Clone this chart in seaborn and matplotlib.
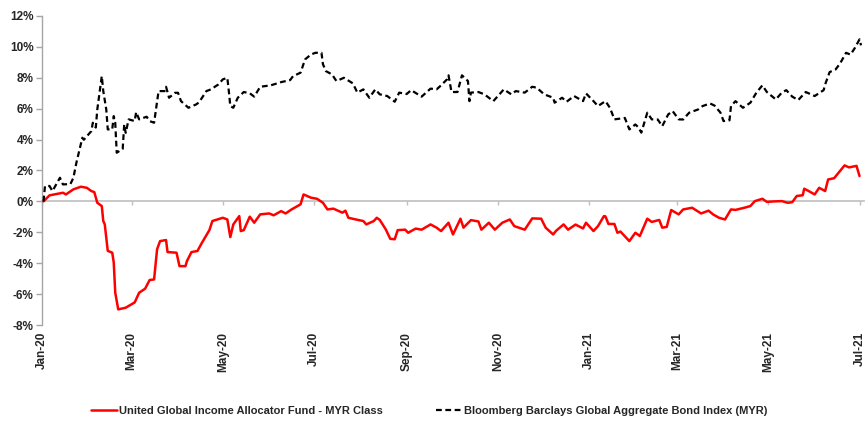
import matplotlib
matplotlib.use("Agg")
import matplotlib.pyplot as plt
import matplotlib.dates as mdates
import pandas as pd
import seaborn as sns

# ---------------- data ----------------
fund_label = "United Global Income Allocator Fund - MYR Class"
index_label = "Bloomberg Barclays Global Aggregate Bond Index (MYR)"

fund_dates = [
    "2020-01-02", "2020-01-06", "2020-01-15", "2020-01-17", "2020-01-22", "2020-01-27", "2020-01-31", "2020-02-03", "2020-02-05", "2020-02-07",
    "2020-02-10", "2020-02-11", "2020-02-12", "2020-02-14", "2020-02-17", "2020-02-18", "2020-02-19", "2020-02-21", "2020-02-26", "2020-03-03",
    "2020-03-06", "2020-03-10", "2020-03-13", "2020-03-16", "2020-03-18", "2020-03-20", "2020-03-24", "2020-03-25", "2020-03-31", "2020-04-02",
    "2020-04-06", "2020-04-07", "2020-04-10", "2020-04-14", "2020-04-17", "2020-04-22", "2020-04-24", "2020-05-01", "2020-05-04", "2020-05-06",
    "2020-05-08", "2020-05-12", "2020-05-13", "2020-05-15", "2020-05-19", "2020-05-22", "2020-05-26", "2020-06-01", "2020-06-04", "2020-06-09",
    "2020-06-12", "2020-06-16", "2020-06-22", "2020-06-24", "2020-06-29", "2020-07-03", "2020-07-07", "2020-07-10", "2020-07-14", "2020-07-20",
    "2020-07-22", "2020-07-24", "2020-07-29", "2020-08-03", "2020-08-05", "2020-08-10", "2020-08-12", "2020-08-14", "2020-08-18", "2020-08-21",
    "2020-08-24", "2020-08-26", "2020-08-31", "2020-09-02", "2020-09-07", "2020-09-11", "2020-09-17", "2020-09-21", "2020-09-24", "2020-09-29",
    "2020-10-02", "2020-10-07", "2020-10-09", "2020-10-14", "2020-10-19", "2020-10-21", "2020-10-26", "2020-10-30", "2020-11-04", "2020-11-09",
    "2020-11-12", "2020-11-19", "2020-11-24", "2020-11-30", "2020-12-03", "2020-12-08", "2020-12-10", "2020-12-15", "2020-12-18", "2020-12-23",
    "2020-12-28", "2020-12-30", "2021-01-04", "2021-01-07", "2021-01-11", "2021-01-12", "2021-01-14", "2021-01-18", "2021-01-20", "2021-01-22",
    "2021-01-28", "2021-02-01", "2021-02-04", "2021-02-09", "2021-02-12", "2021-02-17", "2021-02-19", "2021-02-22", "2021-02-25", "2021-03-02",
    "2021-03-05", "2021-03-11", "2021-03-17", "2021-03-22", "2021-03-25", "2021-03-29", "2021-04-02", "2021-04-06", "2021-04-09", "2021-04-15",
    "2021-04-19", "2021-04-22", "2021-04-27", "2021-04-30", "2021-05-05", "2021-05-10", "2021-05-14", "2021-05-17", "2021-05-20", "2021-05-24",
    "2021-05-25", "2021-05-28", "2021-06-01", "2021-06-04", "2021-06-08", "2021-06-10", "2021-06-14", "2021-06-17", "2021-06-21", "2021-06-24",
    "2021-06-29", "2021-07-01",
]
fund_values = [
    0.0, 0.39, 0.56, 0.45, 0.78, 0.95, 0.88, 0.67, 0.60, -0.09,
    -0.30, -1.27, -1.49, -3.20, -3.32, -3.95, -5.90, -6.99, -6.88, -6.54,
    -5.91, -5.65, -5.09, -5.05, -3.10, -2.57, -2.50, -3.28, -3.32, -4.19,
    -4.19, -3.86, -3.28, -3.21, -2.68, -1.86, -1.27, -1.06, -1.17, -2.31,
    -1.49, -0.95, -1.92, -1.86, -0.99, -1.38, -0.84, -0.78, -0.90, -0.63,
    -0.78, -0.52, -0.19, 0.45, 0.24, 0.17, -0.09, -0.52, -0.47, -0.73,
    -0.60, -1.06, -1.17, -1.27, -1.49, -1.27, -1.06, -1.20, -1.81, -2.42,
    -2.45, -1.86, -1.83, -2.03, -1.76, -1.83, -1.49, -1.70, -1.92, -1.38,
    -2.14, -1.12, -1.70, -1.21, -1.30, -1.83, -1.38, -1.83, -1.38, -1.17,
    -1.60, -1.83, -1.10, -1.12, -1.70, -2.14, -1.90, -1.49, -1.83, -1.50,
    -1.75, -1.38, -1.92, -1.60, -0.95, -0.97, -1.46, -1.46, -2.03, -1.95,
    -2.57, -2.03, -2.24, -1.12, -1.33, -1.20, -1.70, -1.65, -0.56, -0.84,
    -0.52, -0.41, -0.78, -0.60, -0.84, -1.06, -1.17, -0.52, -0.55, -0.41,
    -0.30, 0.02, 0.17, -0.03, 0.00, 0.02, -0.09, -0.05, 0.35, 0.40,
    0.82, 0.67, 0.45, 0.88, 0.67, 1.42, 1.50, 1.86, 2.33, 2.20,
    2.30, 1.64,
]

index_dates = [
    "2020-01-02", "2020-01-03", "2020-01-06", "2020-01-08", "2020-01-13", "2020-01-15", "2020-01-20", "2020-01-22", "2020-01-24", "2020-01-28",
    "2020-01-29", "2020-02-03", "2020-02-04", "2020-02-06", "2020-02-07", "2020-02-10", "2020-02-11", "2020-02-13", "2020-02-14", "2020-02-17",
    "2020-02-18", "2020-02-19", "2020-02-20", "2020-02-24", "2020-02-25", "2020-02-26", "2020-02-28", "2020-03-03", "2020-03-04", "2020-03-06",
    "2020-03-11", "2020-03-13", "2020-03-16", "2020-03-19", "2020-03-23", "2020-03-24", "2020-03-26", "2020-03-30", "2020-04-01", "2020-04-03",
    "2020-04-08", "2020-04-13", "2020-04-15", "2020-04-20", "2020-04-23", "2020-04-28", "2020-05-01", "2020-05-04", "2020-05-05", "2020-05-06",
    "2020-05-08", "2020-05-11", "2020-05-15", "2020-05-19", "2020-05-22", "2020-05-26", "2020-06-02", "2020-06-09", "2020-06-15", "2020-06-17",
    "2020-06-22", "2020-06-25", "2020-06-29", "2020-07-02", "2020-07-06", "2020-07-07", "2020-07-09", "2020-07-13", "2020-07-16", "2020-07-21",
    "2020-07-27", "2020-07-30", "2020-08-03", "2020-08-07", "2020-08-11", "2020-08-14", "2020-08-19", "2020-08-24", "2020-08-27", "2020-09-01",
    "2020-09-04", "2020-09-11", "2020-09-17", "2020-09-21", "2020-09-24", "2020-09-28", "2020-09-29", "2020-10-01", "2020-10-05", "2020-10-08",
    "2020-10-12", "2020-10-13", "2020-10-14", "2020-10-19", "2020-10-23", "2020-10-29", "2020-11-03", "2020-11-05", "2020-11-10", "2020-11-13",
    "2020-11-19", "2020-11-24", "2020-11-27", "2020-12-02", "2020-12-08", "2020-12-09", "2020-12-14", "2020-12-17", "2020-12-22", "2020-12-28",
    "2020-12-30", "2021-01-04", "2021-01-07", "2021-01-12", "2021-01-15", "2021-01-18", "2021-01-25", "2021-01-28", "2021-02-01", "2021-02-03",
    "2021-02-05", "2021-02-09", "2021-02-12", "2021-02-16", "2021-02-19", "2021-02-23", "2021-02-26", "2021-03-02", "2021-03-05", "2021-03-09",
    "2021-03-15", "2021-03-18", "2021-03-23", "2021-03-26", "2021-03-30", "2021-04-01", "2021-04-05", "2021-04-06", "2021-04-09", "2021-04-14",
    "2021-04-19", "2021-04-23", "2021-04-27", "2021-04-30", "2021-05-06", "2021-05-10", "2021-05-13", "2021-05-17", "2021-05-21", "2021-05-26",
    "2021-06-01", "2021-06-07", "2021-06-08", "2021-06-11", "2021-06-15", "2021-06-18", "2021-06-22", "2021-06-25", "2021-06-28", "2021-07-01",
    "2021-07-02",
]
index_values = [
    0.0, 0.99, 1.00, 0.67, 1.53, 1.10, 1.12, 1.53, 2.50, 4.12,
    3.99, 4.55, 5.09, 4.78, 5.95, 8.11, 7.14, 5.95, 4.66, 4.66,
    5.52, 5.09, 3.15, 3.40, 4.98, 4.44, 5.31, 5.20, 5.78, 5.31,
    5.48, 5.20, 5.09, 7.14, 7.14, 7.42, 6.71, 7.03, 7.03, 6.49,
    6.06, 6.27, 6.40, 7.14, 7.25, 7.57, 7.90, 8.00, 7.14, 6.17,
    6.06, 6.71, 7.08, 7.00, 6.78, 7.42, 7.51, 7.72, 7.85, 8.11,
    8.33, 9.19, 9.51, 9.62, 9.62, 8.87, 8.43, 8.22, 7.79, 8.00,
    7.64, 7.04, 7.25, 6.71, 7.25, 6.93, 6.82, 6.45, 7.04, 6.95,
    7.20, 6.78, 7.30, 7.25, 7.51, 7.90, 8.16, 7.08, 7.08, 8.16,
    7.79, 6.49, 7.04, 7.08, 6.93, 6.49, 7.04, 7.25, 6.93, 7.14,
    7.04, 7.42, 7.36, 6.93, 6.71, 6.39, 6.71, 6.45, 6.82, 6.49,
    6.99, 6.49, 6.17, 6.49, 6.06, 5.31, 5.40, 4.66, 4.98, 4.80,
    4.45, 5.74, 5.31, 5.30, 4.87, 5.63, 5.84, 5.31, 5.30, 5.74,
    5.95, 6.17, 6.34, 6.20, 5.74, 5.20, 5.25, 6.17, 6.49, 6.06,
    6.39, 7.04, 7.51, 7.08, 6.60, 7.04, 7.20, 6.78, 6.56, 7.08,
    6.82, 7.20, 7.57, 8.37, 8.54, 8.93, 9.62, 9.50, 9.95, 10.49,
    10.10,
]

xtick_dates = ["2020-01-01", "2020-03-01", "2020-05-01", "2020-07-01", "2020-09-01",
               "2020-11-01", "2021-01-01", "2021-03-01", "2021-05-01", "2021-07-01"]
xtick_labels = ["Jan-20", "Mar-20", "May-20", "Jul-20", "Sep-20",
                "Nov-20", "Jan-21", "Mar-21", "May-21", "Jul-21"]
ytick_values = [-8, -6, -4, -2, 0, 2, 4, 6, 8, 10, 12]
ytick_labels = ["-8%", "-6%", "-4%", "-2%", "0%", "2%", "4%", "6%", "8%", "10%", "12%"]

# ---------------- style ----------------
sns.set_style("white")
plt.rcParams["font.family"] = ["Liberation Sans", "DejaVu Sans"]
plt.rcParams["font.weight"] = "bold"

fig = plt.figure(figsize=(8.67, 4.22), dpi=100)
ax = fig.add_axes([42 / 867, 1 - 325 / 422, (864 - 42) / 867, (325 - 16) / 422])

fund_df = pd.DataFrame({"date": pd.to_datetime(fund_dates), "value": fund_values})
index_df = pd.DataFrame({"date": pd.to_datetime(index_dates), "value": index_values})

sns.lineplot(data=fund_df, x="date", y="value", color="#ff0000", lw=1.8,
             estimator=None, ax=ax, label=fund_label, zorder=3)
sns.lineplot(data=index_df, x="date", y="value", color="#000000", lw=1.6,
             linestyle=(0, (2.6, 1.6)), estimator=None, ax=ax, label=index_label, zorder=3)

ax.set_xlim(pd.Timestamp("2020-01-01"), pd.Timestamp("2021-07-04"))
ax.set_ylim(-8, 12)
ax.set_xlabel("")
ax.set_ylabel("")

ax.set_yticks(ytick_values, labels=ytick_labels)
ax.tick_params(axis="y", direction="out", length=4, width=1, color="#a6a6a6",
               labelsize=8.5, pad=2, left=True)

tick_nums = mdates.date2num(pd.to_datetime(xtick_dates))
ax.set_xticks(tick_nums)
ax.set_xticklabels([""] * len(tick_nums))
ax.tick_params(axis="x", direction="out", length=3, width=1, color="#bfbfbf",
               bottom=True, labelbottom=False)

for s in ["top", "right"]:
    ax.spines[s].set_visible(False)
ax.spines["bottom"].set_position(("data", 0))
ax.spines["bottom"].set_color("#bfbfbf")
ax.spines["bottom"].set_linewidth(1.2)
ax.spines["left"].set_color("#a6a6a6")
ax.spines["left"].set_linewidth(1.0)

sec = ax.secondary_xaxis(0.0)
sec.set_xticks(tick_nums, labels=xtick_labels)
sec.tick_params(axis="x", length=0, pad=5, labelsize=8.5, labelrotation=90)
sec.spines["bottom"].set_visible(False)

handles, labels = ax.get_legend_handles_labels()
if ax.get_legend() is not None:
    ax.get_legend().remove()
fig.legend(handles, labels, loc="center", bbox_to_anchor=(0.495, 0.026), ncol=2,
           frameon=False, fontsize=8, handlelength=2.4, handletextpad=0.2,
           columnspacing=4.7)

fig.savefig("out.png", dpi=100)
